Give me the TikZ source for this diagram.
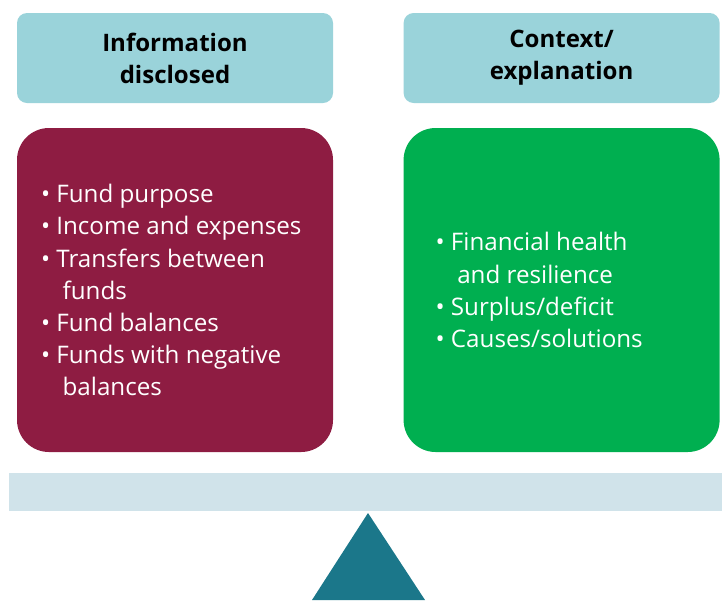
\documentclass[tikz,border=0pt]{standalone}
\usepackage{fontspec}
\setmainfont{Open Sans}
\usepackage{tikz}
\usetikzlibrary{positioning,calc}
\usepackage{xcolor}
\definecolor{headteal}{HTML}{9AD3DA}
\definecolor{maroon}{HTML}{8E1C42}
\definecolor{leafgreen}{HTML}{00AF50}
\definecolor{beamblue}{HTML}{D0E3EA}
\definecolor{pivotteal}{HTML}{1B778A}
\tikzset{
  headbox/.style={fill=headteal, rounded corners=2.5mm, align=center, minimum width=7.9cm, minimum height=2.25cm,
    font=\fontsize{17.1}{22.8}\selectfont\bfseries},
  bodybox/.style={rounded corners=8mm, minimum width=7.9cm, minimum height=8.1cm},
  redbox/.style={bodybox, fill=maroon},
  greenbox/.style={bodybox, fill=leafgreen},
  itemtext/.style={align=left, inner sep=0pt, anchor=west, text=white, font=\fontsize{17.2}{22.8}\selectfont}
}
\newcommand{\bul}{•\ }
\newcommand{\cont}{\hphantom{•\ }\ }

\begin{document}
\begin{tikzpicture}
  \useasboundingbox (0,0) rectangle (18.05,-15);
  \node[headbox] (info) at (4.375,-1.45) {Information\\disclosed};
  \node[headbox] (context) at (14.04,-1.45) {Context/\\explanation};
  \node[redbox] (infobody) at (4.375,-7.25) {};
  \node[greenbox] (contextbody) at (14.04,-7.25) {};
  \node[itemtext] (infolist) at ([xshift=0.6cm]infobody.west) {\bul Fund purpose\\ \bul Income and expenses\\ \bul Transfers between\\ \cont funds\\ \bul Fund balances\\ \bul Funds with negative\\ \cont balances};
  \node[itemtext] (contextlist) at ([xshift=0.8cm]contextbody.west) {\bul Financial health\\ \cont and resilience\\ \bul Surplus/deficit\\ \bul Causes/solutions};
  % beam and pivot of the scale
  \fill[beamblue] (0.225,-11.825) rectangle (18.05,-12.775);
  \fill[pivotteal] (9.2,-12.825) -- (10.625,-15) -- (7.8,-15) -- cycle;
\end{tikzpicture}
\end{document}
